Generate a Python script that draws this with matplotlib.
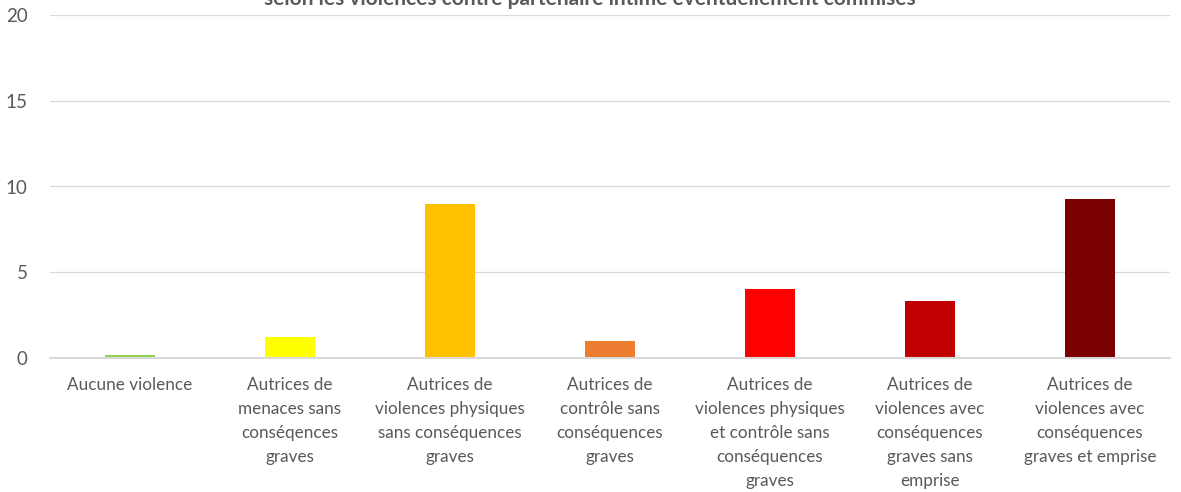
import matplotlib
matplotlib.use("Agg")
import matplotlib.pyplot as plt

categories = [
    "Aucune violence",
    "Autrices de\nmenaces sans\nconséqences\ngraves",
    "Autrices de\nviolences physiques\nsans conséquences\ngraves",
    "Autrices de\ncontrôle sans\nconséquences\ngraves",
    "Autrices de\nviolences physiques\net contrôle sans\nconséquences\ngraves",
    "Autrices de\nviolences avec\nconséquences\ngraves sans\nemprise",
    "Autrices de\nviolences avec\nconséquences\ngraves et emprise",
]
values = [0.2, 1.25, 9.0, 1.0, 4.05, 3.3, 9.25]
colors = ["#92D050", "#FFFF00", "#FFC000", "#ED7D31", "#FF0000", "#C00000", "#7B0000"]
yticks = [0, 5, 10, 15, 20]
title = "selon les violences contre partenaire intime éventuellement commises"

plt.rcParams['font.family'] = ['Lato', 'DejaVu Sans']

W, H = 1181, 492
fig = plt.figure(figsize=(W / 100, H / 100), dpi=100)
left, right = 50 / W, 1170 / W
y0px, y20px = 358, 15
ax = fig.add_axes([left, 1 - y0px / H, right - left, (y0px - y20px) / H])

x = list(range(len(categories)))
ax.bar(x, values, width=0.31, color=colors, zorder=3)
ax.set_xlim(-0.5, len(categories) - 0.5)
ax.set_ylim(0, 20)
ax.set_yticks(yticks)
ax.set_yticklabels([str(v) for v in yticks], color="#595959", fontsize=13.5)
ax.set_xticks(x)
ax.set_xticklabels(categories, color="#595959", fontsize=12.3, linespacing=1.6, va="top")
ax.tick_params(axis="both", length=0)
ax.tick_params(axis="y", pad=16)
ax.tick_params(axis="x", pad=14)
ax.grid(axis="y", color="#D9D9D9", linewidth=0.9, zorder=0)
for s in ["top", "right", "left"]:
    ax.spines[s].set_visible(False)
ax.spines["bottom"].set_color("#D9D9D9")
ax.spines["bottom"].set_linewidth(1.5)
ax.spines["bottom"].set_zorder(4)

fig.text(590 / W, 1 - 5 / H, title, ha="center", va="baseline",
         fontsize=15, fontweight="bold", color="#595959")

fig.savefig("out.png", dpi=100, facecolor="white")
